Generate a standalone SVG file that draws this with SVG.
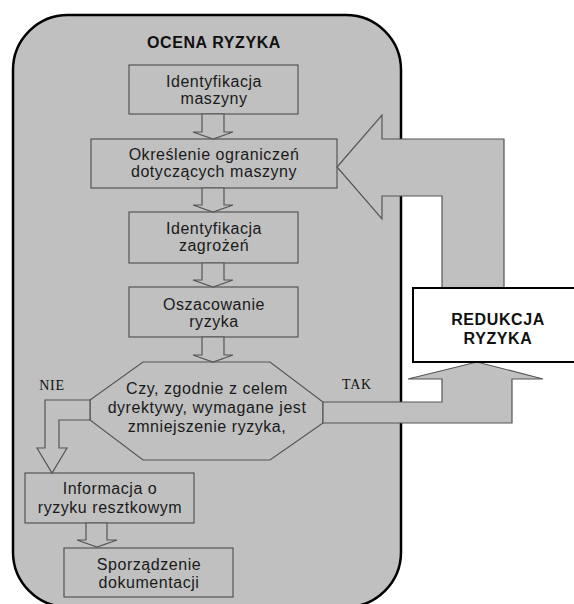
<svg xmlns="http://www.w3.org/2000/svg" width="574" height="604" viewBox="0 0 574 604">
<style>
.frame{fill:#c0c0c0;stroke:#000;stroke-width:2.5}
.box{fill:#c0c0c0;stroke:#555;stroke-width:1.2}
.arr{fill:#c0c0c0;stroke:#555;stroke-width:1.2;stroke-linejoin:miter}
.t{font-family:"Liberation Sans",Arial,sans-serif;font-size:16px;letter-spacing:0.55px;fill:#1a1a1a;text-anchor:middle}
.b{font-family:"Liberation Sans",Arial,sans-serif;font-size:16px;font-weight:bold;letter-spacing:0.6px;fill:#111;text-anchor:middle}
.s{font-family:"Liberation Serif","Times New Roman",serif;font-size:14px;letter-spacing:0.8px;fill:#111;text-anchor:middle}
</style>
<rect width="574" height="604" fill="#fff"/>
<g id="ocena">
<rect class="frame" x="13" y="15" width="388" height="592" rx="55" ry="55"/>
<text class="b" x="214" y="48">OCENA RYZYKA</text>
</g>
<g id="n1"><rect class="box" x="129" y="65" width="169" height="49"/>
<text class="t" x="214" y="87">Identyfikacja</text><text class="t" x="214" y="104">maszyny</text></g>
<g id="n2"><rect class="box" x="91" y="139" width="246" height="49"/>
<text class="t" x="214" y="160">Określenie ograniczeń</text><text class="t" x="214" y="177">dotyczących maszyny</text></g>
<g id="n3"><rect class="box" x="129" y="212" width="169" height="51"/>
<text class="t" x="214" y="234">Identyfikacja</text><text class="t" x="214" y="251">zagrożeń</text></g>
<g id="n4"><rect class="box" x="129" y="287" width="169" height="50"/>
<text class="t" x="214" y="310">Oszacowanie</text><text class="t" x="214" y="327">ryzyka</text></g>
<g id="decyzja"><polygon class="box" points="143,362 270,362 323,402 323,423 270,460 143,460 90,420 90,400"/>
<text class="t" x="207" y="394">Czy, zgodnie z celem</text><text class="t" x="207" y="413">dyrektywy, wymagane jest</text><text class="t" x="207" y="432">zmniejszenie ryzyka,</text></g>
<g id="n6"><rect class="box" x="25" y="473" width="169" height="50"/>
<text class="t" x="110" y="494">Informacja o</text><text class="t" x="110" y="513">ryzyku resztkowym</text></g>
<g id="n7"><rect class="box" x="64" y="548" width="169" height="49"/>
<text class="t" x="149" y="570">Sporządzenie</text><text class="t" x="149" y="588">dokumentacji</text></g>
<g id="connectors">
<path class="arr" d="M202,114 L224,114 L224,132 L233,132 L213,139 L193,132 L202,132 Z"/>
<path class="arr" d="M202,188 L224,188 L224,205 L233,205 L213,212 L193,205 L202,205 Z"/>
<path class="arr" d="M202,263 L224,263 L224,280 L233,280 L213,287 L193,280 L202,280 Z"/>
<path class="arr" d="M202,337 L224,337 L224,355 L233,355 L213,362 L193,355 L202,355 Z"/>
<path class="arr" d="M86,523 L107,523 L107,540 L117,540 L97,547 L77,540 L86,540 Z"/>
<path class="arr" d="M90,400 L45,400 L45,448 L37,448 L52,473 L67,448 L59,448 L59,420 L90,420 Z"/>
<path class="arr" d="M323,402 L442,402 L442,379 L408,379 L477,362 L543,379 L512,379 L512,423 L323,423 Z"/>
<path class="arr" d="M442,288 L442,196 L382,196 L382,219 L337,167 L382,115 L382,139 L504,139 L504,288 Z"/>
<text class="s" x="52" y="390">NIE</text>
<text class="s" x="357" y="389">TAK</text>
</g>
<g id="redukcja"><rect x="413" y="288" width="175" height="74" fill="#fff" stroke="#000" stroke-width="2"/>
<text class="b" x="498" y="325">REDUKCJA</text><text class="b" x="498" y="344">RYZYKA</text></g>
</svg>
